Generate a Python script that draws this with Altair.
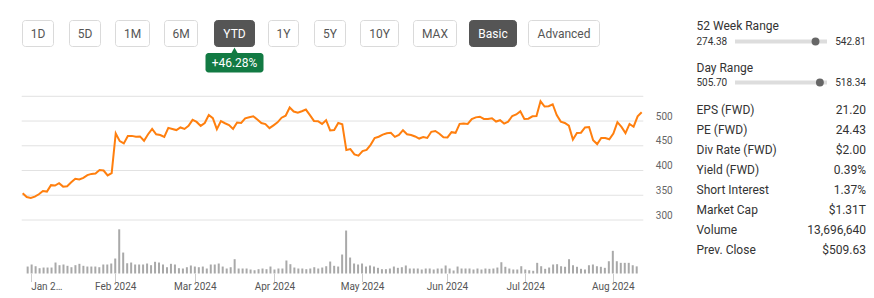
import altair as alt
import pandas as pd

# ---------------- data ----------------
base_date = "2023-12-29"
last_date = "2024-08-09"
market_holidays = ["2024-01-01", "2024-01-15", "2024-02-19", "2024-03-29",
                   "2024-05-27", "2024-06-19", "2024-07-04"]

close_prices = [
    353.96,
    346.29, 344.47, 347.12, 351.95, 358.66, 357.43, 370.47, 369.67, 374.49, 367.46, 368.37,
    376.13, 383.45, 381.78, 385.20, 390.70, 393.18, 394.14, 401.02, 400.06, 390.14,
    394.78, 474.99, 459.41, 454.72, 469.59, 470.00, 468.11, 468.90, 460.12, 473.28, 484.03,
    473.32, 471.75, 468.03, 486.13, 484.03, 481.74, 487.05, 484.02, 490.13,
    502.30, 498.19, 490.22, 496.09, 512.19, 505.95, 483.59, 499.75, 495.57, 491.83, 484.10,
    496.98, 496.24, 505.52, 507.76, 509.58, 503.02, 495.94, 493.86, 485.58,
    491.35, 497.37, 506.74, 510.92, 527.34, 519.25, 516.90, 519.83, 523.16, 511.90, 500.23,
    499.76, 494.17, 501.80, 481.07, 481.73, 496.10, 493.50, 441.38, 443.29, 432.62, 430.17,
    439.19, 441.68, 451.96, 465.68, 468.24, 472.60, 475.42, 476.20, 468.01, 471.85, 481.54,
    473.23, 471.90, 468.84, 464.63, 467.78, 465.78, 478.22, 479.92, 474.36, 467.05, 466.83,
    477.49, 476.13, 494.31, 494.92, 494.02, 504.01, 507.40, 508.70, 504.16, 504.00, 505.50,
    499.00, 501.70, 494.78, 498.88, 510.14, 513.34, 519.56, 504.22,
    504.68, 509.50, 509.96, 539.91, 529.32, 530.00, 533.90, 512.00, 498.87, 496.16, 490.50,
    462.50, 475.80, 476.50, 487.00, 488.00, 461.27, 453.41, 465.70, 465.71, 463.19, 474.83,
    497.74, 488.14, 475.73, 494.09, 488.50, 509.63, 517.77,
]

volumes_m = [
    13.4, 17.3, 14.0, 10.2, 11.5, 11.5, 11.5, 21.1, 16.0, 17.3, 14.8, 12.1, 16.0, 18.6, 14.8,
    13.4, 13.4, 13.4, 12.1, 17.3, 17.3, 19.2, 28.8, 85.0, 40.3, 19.8, 21.1, 17.3, 17.3, 17.3,
    19.2, 16.0, 22.5, 21.1, 17.3, 12.1, 18.6, 17.3, 10.2,
    9.6, 12.1, 15.4, 13.4, 12.1, 13.4, 9.6, 17.3, 17.3, 19.2, 13.4, 9.6, 12.1, 27.5, 9.6,
    9.6, 9.6, 7.7, 6.3, 8.3, 9.6, 8.3, 13.4, 7.7, 9.6, 9.6, 25.0, 17.9, 11.5, 9.6, 9.6, 8.3,
    9.6, 12.1, 9.6, 11.5, 14.0, 23.0,
    14.8, 13.4, 36.5, 82.6, 30.7, 19.2, 17.3, 19.2, 13.4, 15.4, 13.4, 10.9, 8.3, 8.3, 9.6,
    13.4, 10.9, 12.1, 15.4, 9.6, 9.6, 9.6, 7.7, 9.6, 9.6, 7.7, 9.6, 9.6, 15.4, 9.6, 5.8,
    13.4, 9.6, 9.6, 9.6, 7.7, 9.6, 7.7, 9.6,
    9.0, 9.6, 11.5, 21.7, 12.9, 9.6, 7.7, 7.7, 14.0, 7.7, 6.3, 5.2, 20.5, 14.0, 9.0, 11.5,
    17.3, 17.9, 14.0, 12.9, 27.5, 15.9, 12.9, 9.0, 7.7, 15.9, 17.3, 14.0, 12.9, 10.9, 23.6,
    43.6, 23.6, 20.5, 20.5, 20.5, 15.9, 13.7,
]

month_starts = ["2024-01-01", "2024-02-01", "2024-03-01", "2024-04-01",
                "2024-05-01", "2024-06-01", "2024-07-01", "2024-08-01"]
month_labels = ["Jan 2…", "Feb 2024", "Mar 2024", "Apr 2024",
                "May 2024", "Jun 2024", "Jul 2024", "Aug 2024"]
price_ticks = [300, 350, 400, 450, 500, 550]
price_labelled = [300, 350, 400, 450, 500]

range_buttons = ["1D", "5D", "1M", "6M", "YTD", "1Y", "5Y", "10Y", "MAX", "Basic", "Advanced"]
active_buttons = ["YTD", "Basic"]

range_titles = ["52 Week Range", "Day Range"]
range_lows = [274.38, 505.70]
range_highs = [542.81, 518.34]

stat_labels = ["EPS (FWD)", "PE (FWD)", "Div Rate (FWD)", "Yield (FWD)",
               "Short Interest", "Market Cap", "Volume", "Prev. Close"]
stat_values = ["21.20", "24.43", "$2.00", "0.39%", "1.37%", "$1.31T", "13,696,640", "$509.63"]

# ---------------- layout ----------------
FONT = "Roboto"
TEXT = "#333333"
PLOT_X0, PLOT_X1 = 21.7, 643.3
X_DOMAIN = [-1.24, 152.4]
PRICE_TOP, PRICE_BOTTOM = 96.3, 220.0
VOL_BASE, VOL_TOP = 273.5, 221.5
W, H = 874, 298

btn_left = [22.5, 69.5, 115.5, 164.5, 214.5, 268.5, 314.5, 360.5, 413.5, 469.5, 528.5]
btn_width = [31, 31, 34, 33, 40, 30, 31, 38, 43, 47, 71]
BTN_Y0, BTN_Y1 = 20.5, 46.5

PANEL_X0, PANEL_X1 = 696.5, 866.0

# ---------------- derived tables ----------------
trading_days = [d for d in pd.bdate_range(base_date, last_date)
                if d.strftime("%Y-%m-%d") not in market_holidays]


def month_pos(ms):
    ts = pd.Timestamp(ms)
    for k, d in enumerate(trading_days):
        if d >= ts:
            if d == ts:
                return float(k - 1)
            prev = trading_days[k - 1]
            return round((k - 2) + (ts - prev) / (d - prev), 3)
    return float(len(trading_days) - 1)


tick_pos = [month_pos(m) for m in month_starts]
label_expr = "".join(
    f"abs(datum.value - ({p})) < 0.01 ? '{lab}' : " for p, lab in zip(tick_pos, month_labels)
) + "''"

df = pd.DataFrame({"i": list(range(-1, len(close_prices) - 1)),
                   "close": close_prices, "vol": volumes_m})

xs = alt.Scale(domain=X_DOMAIN, range=[PLOT_X0, PLOT_X1], nice=False, zero=False)
ys = alt.Scale(domain=[300, 550], range=[PRICE_BOTTOM, PRICE_TOP], nice=False, zero=False)
vs = alt.Scale(domain=[0, 100], range=[VOL_BASE, VOL_TOP], nice=False)

grid = alt.Chart(pd.DataFrame({"g": price_ticks})).mark_rule(
    color="#e2e2e2", strokeWidth=1
).encode(
    y=alt.Y("g:Q", scale=ys, axis=None),
    x=alt.value(PLOT_X0), x2=alt.value(PLOT_X1),
)

vol = alt.Chart(df).mark_bar(size=2, color="#a9a9a9").encode(
    x=alt.X("i:Q", scale=xs, axis=alt.Axis(
        orient="bottom", offset=VOL_BASE - H, values=tick_pos, labelExpr=label_expr,
        domain=False, ticks=True, tickSize=8, tickColor="#cccccc", grid=False,
        labelFont=FONT, labelFontSize=10, labelColor="#555555", labelPadding=0,
        labelAlign={"condition": {"test": "datum.value < 1", "value": "left"}, "value": "center"},
        title=None)),
    y=alt.Y("vol:Q", scale=vs, axis=None),
)

line = alt.Chart(df).mark_line(color="#ff7f0e", strokeWidth=2).encode(
    x=alt.X("i:Q", scale=xs, axis=None),
    y=alt.Y("close:Q", scale=ys, axis=alt.Axis(
        orient="right", offset=PLOT_X1 - W, values=price_labelled, domain=False,
        ticks=False, grid=False, labelPadding=12, labelFont=FONT, labelFontSize=10,
        labelColor="#666666", labelBaseline="alphabetic", labelOffset=-2, title=None)),
)

# buttons
btn_df = pd.DataFrame({
    "label": range_buttons,
    "x0": btn_left,
    "x1": [l + w for l, w in zip(btn_left, btn_width)],
    "xc": [l + w / 2 for l, w in zip(btn_left, btn_width)],
    "active": [b in active_buttons for b in range_buttons],
})
btn_rect = alt.Chart(btn_df).mark_rect(cornerRadius=3, strokeWidth=1).encode(
    x=alt.X("x0:Q", scale=None, axis=None), x2="x1:Q",
    y=alt.value(BTN_Y0), y2=alt.value(BTN_Y1),
    fill=alt.condition("datum.active", alt.value("#555555"), alt.value("#ffffff")),
    stroke=alt.condition("datum.active", alt.value("#555555"), alt.value("#dadada")),
)
btn_text = alt.Chart(btn_df).mark_text(font=FONT, fontSize=12, baseline="middle").encode(
    x=alt.X("xc:Q", scale=None, axis=None),
    y=alt.value((BTN_Y0 + BTN_Y1) / 2),
    text="label:N",
    color=alt.condition("datum.active", alt.value("#ffffff"), alt.value("#555555")),
)

# YTD change tooltip
ytd_pct = (close_prices[-1] / close_prices[0] - 1) * 100
ytd_x = btn_df.loc[btn_df.label == "YTD", "xc"].iloc[0]
tip_df = pd.DataFrame({"x": [ytd_x], "x0": [ytd_x - 29], "x1": [ytd_x + 29],
                       "t": [f"+{ytd_pct:.2f}%"]})
GREEN = "#127a43"
tip_box = alt.Chart(tip_df).mark_rect(cornerRadius=3, color=GREEN).encode(
    x=alt.X("x0:Q", scale=None, axis=None), x2="x1:Q",
    y=alt.value(53), y2=alt.value(72.5),
)
tip_arrow = alt.Chart(tip_df).mark_point(shape="triangle-up", filled=True, size=45,
                                         color=GREEN, opacity=1).encode(
    x=alt.X("x:Q", scale=None, axis=None), y=alt.value(50.5),
)
tip_text = alt.Chart(tip_df).mark_text(font=FONT, fontSize=12, color="#ffffff",
                                       baseline="middle").encode(
    x=alt.X("x:Q", scale=None, axis=None), y=alt.value(62.8), text="t:N",
)

# range sliders
current = close_prices[-1]
rng_df = pd.DataFrame({
    "title": range_titles,
    "low": [f"{v:.2f}" for v in range_lows],
    "high": [f"{v:.2f}" for v in range_highs],
    "frac": [(current - lo) / (hi - lo) for lo, hi in zip(range_lows, range_highs)],
    "ty": [25.7, 67.7],
    "sy": [41.5, 82.5],
})
rng_title = alt.Chart(rng_df).mark_text(font=FONT, fontSize=12, color=TEXT, align="left",
                                        baseline="middle").encode(
    x=alt.value(PANEL_X0), y=alt.Y("ty:Q", scale=None, axis=None), text="title:N")
rng_low = alt.Chart(rng_df).mark_text(font=FONT, fontSize=10, color=TEXT, align="left",
                                      baseline="middle").encode(
    x=alt.value(PANEL_X0), y=alt.Y("sy:Q", scale=None, axis=None), text="low:N")
rng_high = alt.Chart(rng_df).mark_text(font=FONT, fontSize=10, color=TEXT, align="right",
                                       baseline="middle").encode(
    x=alt.value(PANEL_X1), y=alt.Y("sy:Q", scale=None, axis=None), text="high:N")
rng_track = alt.Chart(rng_df).mark_rule(color="#dddddd", strokeWidth=4).encode(
    x=alt.value(735), x2=alt.value(827), y=alt.Y("sy:Q", scale=None, axis=None))
rng_dot = alt.Chart(rng_df).mark_circle(size=62, color="#666666", opacity=1).encode(
    x=alt.X("frac:Q", scale=alt.Scale(domain=[0, 1], range=[733, 824]), axis=None),
    y=alt.Y("sy:Q", scale=None, axis=None))

# key stats
stats_df = pd.DataFrame({"label": stat_labels, "value": stat_values,
                         "y": [110 + 20 * k for k in range(len(stat_labels))]})
stat_l = alt.Chart(stats_df).mark_text(font=FONT, fontSize=12, color=TEXT, align="left",
                                       baseline="middle").encode(
    x=alt.value(PANEL_X0), y=alt.Y("y:Q", scale=None, axis=None), text="label:N")
stat_r = alt.Chart(stats_df).mark_text(font=FONT, fontSize=12, color=TEXT, align="right",
                                       baseline="middle").encode(
    x=alt.value(PANEL_X1), y=alt.Y("y:Q", scale=None, axis=None), text="value:N")

chart = alt.layer(
    grid, vol, line, btn_rect, btn_text, tip_box, tip_arrow, tip_text,
    rng_title, rng_low, rng_high, rng_track, rng_dot, stat_l, stat_r,
).resolve_scale(
    x="independent", y="independent"
).properties(
    width=W, height=H, padding=0, background="#ffffff",
    autosize=alt.AutoSizeParams(type="none"),
).configure_view(stroke=None)

chart.save("out.html", embed_options={"renderer": "svg", "actions": False})
